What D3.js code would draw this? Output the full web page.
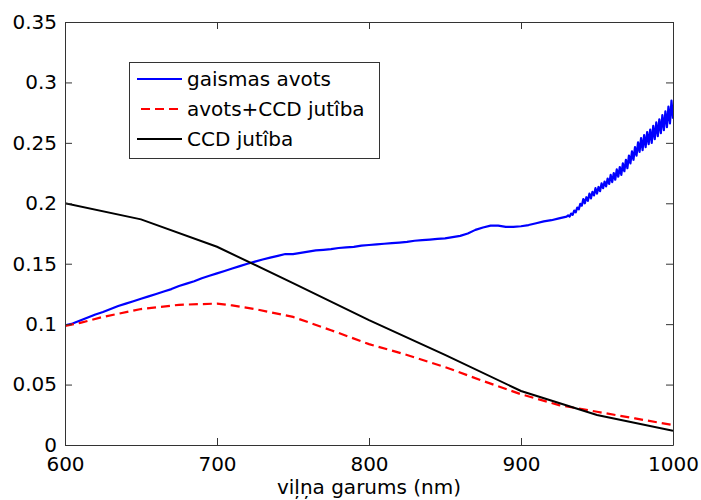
<!DOCTYPE html>
<html lang="en">
<head>
<meta charset="UTF-8">
<title>gaismas avots</title>
<style>
  body { margin: 0; background: #fff; }
  svg text { font-family: "DejaVu Sans", sans-serif; font-size: 20px; fill: #000; }
</style>
</head>
<body>
<svg id="chart" width="701" height="500"></svg>

<script src="https://d3js.org/d3.v7.min.js"></script>
<script>
// wavelengths (nm) and values
var blueNm = [600,605,610,615,620,625,630,635,640,645,650,655,660,665,670,675,680,685,690,695,
  700,705,710,715,720,725,730,735,740,745,750,755,760,765,770,775,780,785,790,795,
  800,805,810,815,820,825,830,835,840,845,850,855,860,865,870,875,880,885,890,895,
  900,905,910,915,920,925,930,
  931,932,933,934,935,936,937,938,939,940,941,942,943,944,945,946,947,948,949,950,
  951,952,953,954,955,956,957,958,959,960,961,962,963,964,965,966,967,968,969,970,
  971,972,973,974,975,976,977,978,979,980,981,982,983,984,985,986,987,988,989,990,
  991,992,993,994,995,996,997,998,999,1000];
var blueVal = [0.099,0.1005,0.103,0.1055,0.108,0.110,0.1125,0.115,0.117,0.119,0.121,0.123,0.125,0.127,0.129,0.1315,0.1335,0.1355,0.138,0.140,
  0.142,0.144,0.146,0.148,0.150,0.1517,0.1535,0.155,0.1565,0.158,0.158,0.159,0.160,0.161,0.1615,0.162,0.163,0.1635,0.164,0.165,
  0.1655,0.166,0.1665,0.167,0.1675,0.168,0.169,0.1695,0.170,0.1705,0.171,0.172,0.173,0.175,0.178,0.180,0.1815,0.1815,0.1805,0.1805,
  0.181,0.182,0.1835,0.185,0.186,0.1875,0.189,
  0.1900,0.1890,0.1915,0.1905,0.1940,0.1925,0.1965,0.1950,0.1995,0.1980,0.2035,0.2000,0.2050,0.2020,0.2080,0.2040,0.2095,0.2065,0.2125,0.2080,
  0.2135,0.2100,0.2165,0.2125,0.2180,0.2140,0.2205,0.2160,0.2235,0.2175,0.2250,0.2195,0.2280,0.2220,0.2300,0.2235,0.2330,0.2265,0.2360,0.2290,
  0.2395,0.2330,0.2430,0.2360,0.2465,0.2395,0.2505,0.2425,0.2540,0.2440,0.2565,0.2465,0.2590,0.2490,0.2610,0.2500,0.2640,0.2530,0.2670,0.2555,
  0.2695,0.2580,0.2730,0.2605,0.2760,0.2630,0.2800,0.2660,0.2850,0.2700];

var redNm = [600,610,625,650,675,700,710,725,750,775,800,825,850,875,900,925,950,975,1000];
var redVal = [0.0985,0.101,0.106,0.1125,0.116,0.117,0.1155,0.1125,0.106,0.095,0.0835,0.0745,0.0645,0.053,0.042,0.033,0.0275,0.022,0.0165];

var blackNm = [600,650,700,750,800,850,900,950,1000];
var blackVal = [0.200,0.1867,0.164,0.134,0.1034,0.0745,0.0447,0.0248,0.0118];

var legendLabels = ["gaismas avots", "avots+CCD jutîba", "CCD jutîba"];
var xTicks = [600,700,800,900,1000];
var yTicks = [0,0.05,0.1,0.15,0.2,0.25,0.3,0.35];

var svg = d3.select("#chart"),
  mLeft = 65, mRight = 673, mTop = 22, mBottom = 445,
  axisColor = "#333";

var x = d3.scaleLinear().domain([600,1000]).range([mLeft,mRight]);
var y = d3.scaleLinear().domain([0,0.35]).range([mBottom,mTop]);

svg.append("clipPath").attr("id","clip")
  .append("rect").attr("x",mLeft).attr("y",mTop).attr("width",mRight-mLeft).attr("height",mBottom-mTop);

function series(nm, val){
  return nm.map(function(d,i){ return [d, val[i]]; });
}

var line = d3.line().x(function(d){ return x(d[0]); }).y(function(d){ return y(d[1]); });

var plot = svg.append("g").attr("clip-path","url(#clip)");

plot.append("path").datum(series(blueNm,blueVal))
  .attr("d",line).attr("fill","none").attr("stroke","#0000ff").attr("stroke-width",2.2)
  .attr("stroke-linejoin","round");
plot.append("path").datum(series(redNm,redVal))
  .attr("d",line).attr("fill","none").attr("stroke","#ff0000").attr("stroke-width",2.2)
  .attr("stroke-dasharray","9,5");
plot.append("path").datum(series(blackNm,blackVal))
  .attr("d",line).attr("fill","none").attr("stroke","#000").attr("stroke-width",2);

// axes box with inward ticks (bottom/left labelled, top/right plain)
var tickLen = 7;
svg.append("g").attr("transform","translate(0,"+mBottom+")")
  .call(d3.axisBottom(x).tickValues(xTicks).tickSizeInner(-tickLen).tickSizeOuter(0).tickPadding(12).tickFormat(d3.format("d")));
svg.append("g").attr("transform","translate(0,"+mTop+")")
  .call(d3.axisTop(x).tickValues(xTicks).tickSizeInner(-tickLen).tickSizeOuter(0).tickFormat(""));
svg.append("g").attr("transform","translate("+mLeft+",0)")
  .call(d3.axisLeft(y).tickValues(yTicks).tickSizeInner(-tickLen).tickSizeOuter(0).tickPadding(8).tickFormat(function(d){ return String(+d.toFixed(2)); }));
svg.append("g").attr("transform","translate("+mRight+",0)")
  .call(d3.axisRight(y).tickValues(yTicks).tickSizeInner(-tickLen).tickSizeOuter(0).tickFormat(""));

svg.selectAll(".domain").attr("stroke",axisColor);
svg.selectAll(".tick line").attr("stroke",axisColor);
svg.selectAll(".tick text").attr("font-family",null).attr("font-size",null).attr("fill","#000");

svg.append("text").attr("x",(mLeft+mRight)/2).attr("y",494).attr("text-anchor","middle")
  .text("viļņa garums (nm)");

// legend
var lg = svg.append("g");
lg.append("rect").attr("x",129.5).attr("y",62.5).attr("width",250).attr("height",96)
  .attr("fill","#fff").attr("stroke",axisColor);
var legendStyle = [
  {color:"#0000ff", dash:null},
  {color:"#ff0000", dash:"9,5"},
  {color:"#000", dash:null}
];
legendLabels.forEach(function(t,i){
  var cy = 79 + i*30;
  lg.append("line").attr("x1",137).attr("x2",182).attr("y1",cy).attr("y2",cy)
    .attr("stroke",legendStyle[i].color).attr("stroke-width",2)
    .attr("stroke-dasharray",legendStyle[i].dash).attr("stroke-dashoffset",legendStyle[i].dash ? -4 : null);
  lg.append("text").attr("x",187).attr("y",cy+7).text(t);
});
</script>
</body>
</html>
